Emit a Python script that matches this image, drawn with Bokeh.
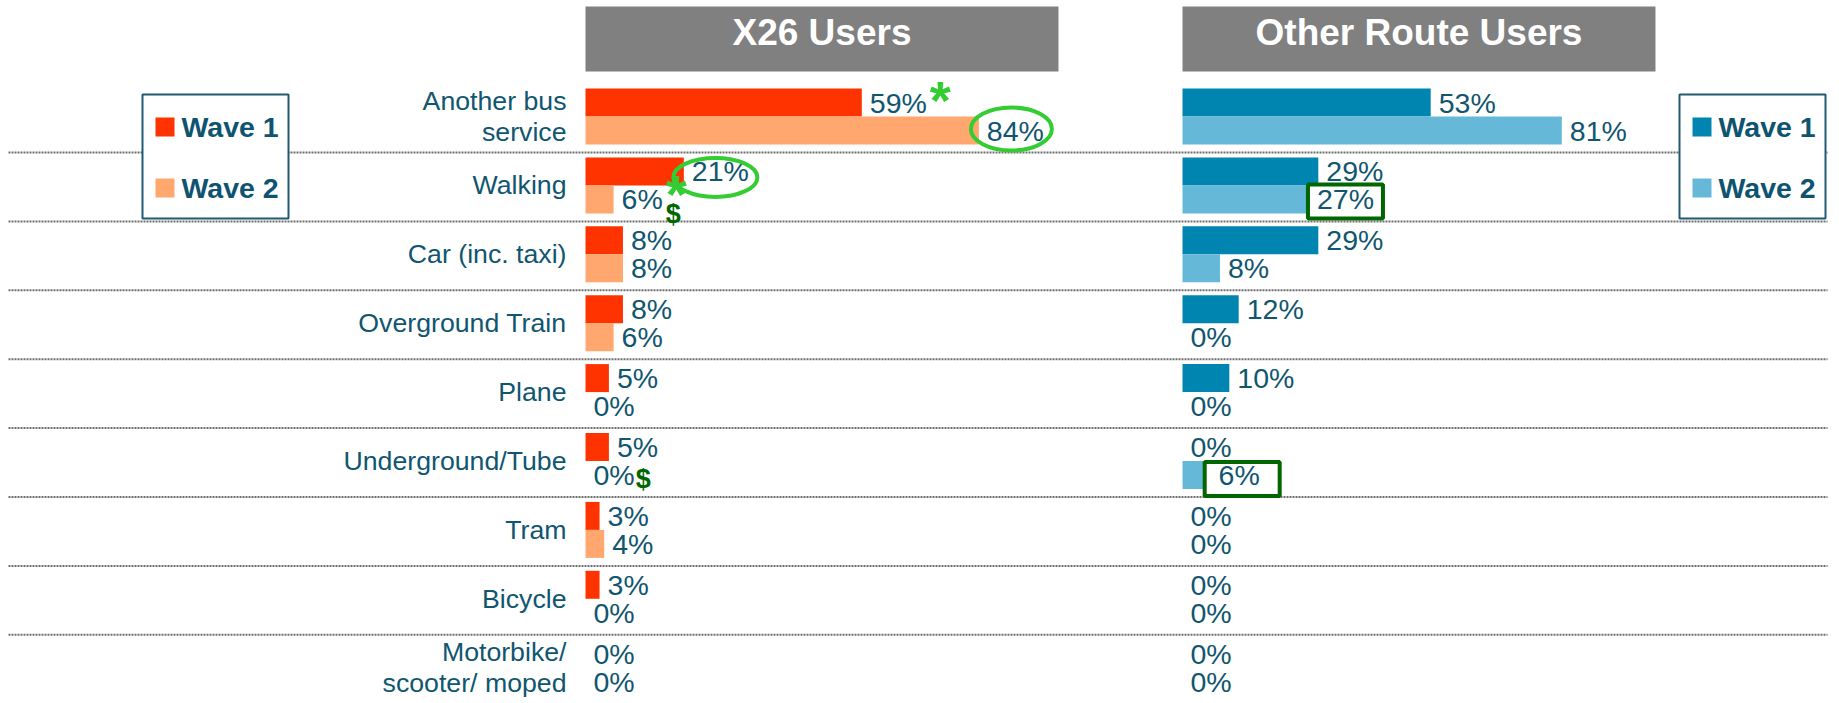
from bokeh.plotting import figure
from bokeh.models import ColumnDataSource, Range1d
from bokeh.transform import dodge
from bokeh.core.properties import value
from bokeh.embed import file_html
from bokeh.resources import INLINE

# ---------------- data ----------------
categories = ["Another bus\nservice", "Walking", "Car (inc. taxi)", "Overground Train",
              "Plane", "Underground/Tube", "Tram", "Bicycle", "Motorbike/\nscooter/ moped"]
x26_wave1 = [59, 21, 8, 8, 5, 5, 3, 3, 0]
x26_wave2 = [84, 6, 8, 6, 0, 0, 4, 0, 0]
other_wave1 = [53, 29, 29, 12, 10, 0, 0, 0, 0]
other_wave2 = [81, 27, 8, 0, 0, 6, 0, 0, 0]
panel_titles = ["X26 Users", "Other Route Users"]
wave_labels = ["Wave 1", "Wave 2"]

# highlighted values: (panel, category index, wave, kind)
highlights = [("x26", 0, 2, "ellipse"), ("x26", 1, 1, "ellipse"),
              ("other", 1, 2, "box"), ("other", 5, 2, "box")]
# significance marks: (panel, category index, wave, symbol)
sig_marks = [("x26", 0, 1, "*"), ("x26", 1, 2, "*"), ("x26", 1, 2, "$"), ("x26", 5, 2, "$")]

# ---------------- layout / style ----------------
W, H = 1839, 703
PAGE = 0
SCALE = 4.683          # px per percent
ORIGIN = {"x26": 585, "other": 1182}
ROW0, PITCH = 116.0, 68.9
BAR_H = 28.0
OFF = 14.0 / PITCH
TXT = "#10566F"
FONT = value("Liberation Sans")
colors = {"x26": ("#FF3300", "#FFA76E"), "other": ("#0085B0", "#66B8D8")}
data = {"x26": (x26_wave1, x26_wave2), "other": (other_wave1, other_wave2)}

p = figure(width=W, height=H, x_range=Range1d(PAGE, PAGE + W), y_range=Range1d(PAGE + H, PAGE),
           output_backend="svg", toolbar_location=None, min_border=0,
           x_axis_location=None, y_axis_location=None, outline_line_color=None,
           background_fill_color="white", border_fill_color="white")
p.grid.visible = False
p.extra_x_ranges = {k: Range1d((PAGE - o) / SCALE, (PAGE + W - o) / SCALE) for k, o in ORIGIN.items()}
p.extra_y_ranges = {"rows": Range1d((PAGE + H - ROW0) / PITCH, (PAGE - ROW0) / PITCH)}

n = len(categories)
idx = list(range(n))

# dotted separators
sep = ColumnDataSource(dict(y=[i + 36.0 / PITCH for i in range(n - 1)]))
p.segment(x0=8, x1=1827, y0="y", y1="y", source=sep, y_range_name="rows",
          line_color="#6E6E6E", line_width=2, line_dash="2 1", level="underlay")

# panel headers
for panel, title in zip(["x26", "other"], panel_titles):
    p.quad(left=0, right=101, top=6, bottom=71, x_range_name=panel,
           fill_color="#808080", line_color=None)
    p.text(x=[50.5], y=[32], text=[title], x_range_name=panel, text_align="center",
           text_baseline="middle", text_color="white", text_font=FONT,
           text_font_size="37px", text_font_style="bold")

# bars
for panel in ["x26", "other"]:
    w1, w2 = data[panel]
    c1, c2 = colors[panel]
    src = ColumnDataSource(dict(idx=idx, w1=w1, w2=w2,
                                l1=[f"{v}%" for v in w1], l2=[f"{v}%" for v in w2]))
    p.hbar(y=dodge("idx", -OFF), left=0, right="w1", height=BAR_H / PITCH, source=src,
           x_range_name=panel, y_range_name="rows", fill_color=c1, line_color=None)
    p.hbar(y=dodge("idx", OFF), left=0, right="w2", height=BAR_H / PITCH, source=src,
           x_range_name=panel, y_range_name="rows", fill_color=c2, line_color=None)
    data[panel + "_src"] = src

# legends
for bl, panel in [(142, "x26"), (1679, "other")]:
    p.quad(left=bl, right=bl + 146, top=94, bottom=218, fill_color="white",
           line_color="#1E5B73", line_width=2)
    for k, (yc, lab) in enumerate(zip([126.5, 187.5], wave_labels)):
        p.quad(left=bl + 13, right=bl + 32, top=yc - 9.5, bottom=yc + 9.5,
               fill_color=colors[panel][k], line_color=None)
        p.text(x=[bl + 39], y=[yc], text=[lab], text_align="left", text_baseline="middle",
               text_color="#0E5470", text_font=FONT, text_font_size="28.5px",
               text_font_style="bold")


def label_geom(panel, i, wave):
    v = data[panel][wave - 1][i]
    s = f"{v}%"
    w = 28.5 * sum(0.889 if ch == "%" else 0.556 for ch in s)
    x0 = ORIGIN[panel] + v * SCALE + 8
    cy = ROW0 + i * PITCH + (-14 if wave == 1 else 14)
    return x0, w, cy


# highlight boxes (behind labels)
hl_adj = {0: (-4, -1.5, 81, 43), 1: (-5, 6, 84, 39), 2: (0, 2, 75, 34), 3: (3, 4, 75, 34)}
for k, (panel, i, wave, kind) in enumerate(highlights):
    x0, w, cy = label_geom(panel, i, wave)
    dx, dy, ww, hh = hl_adj[k]
    if kind == "box":
        p.rect(x=[x0 + w / 2 + dx], y=[cy + dy], width=ww, height=hh, fill_color="white",
               line_color="#006600", line_width=4)

# value labels and category labels
for panel in ["x26", "other"]:
    src = data[panel + "_src"]
    for fld, off in [("l1", -OFF), ("l2", OFF)]:
        wcol = "w1" if fld == "l1" else "w2"
        p.text(x=wcol, y=dodge("idx", off), text=fld, source=src, x_offset=8,
               x_range_name=panel, y_range_name="rows", text_align="left",
               text_baseline="middle", text_color=TXT, text_font=FONT,
               text_font_size="28.5px")

cat_src = ColumnDataSource(dict(idx=idx, cat=categories))
p.text(x=0, y="idx", text="cat", source=cat_src, x_offset=-19, x_range_name="x26",
       y_range_name="rows", text_align="right", text_baseline="middle", text_color=TXT,
       text_font=FONT, text_font_size="26.7px", text_line_height=1.02)

# ellipses
for k, (panel, i, wave, kind) in enumerate(highlights):
    x0, w, cy = label_geom(panel, i, wave)
    dx, dy, ww, hh = hl_adj[k]
    if kind == "ellipse":
        p.ellipse(x=[x0 + w / 2 + dx], y=[cy + dy], width=ww, height=hh, fill_color=None,
                  line_color="#33CC33", line_width=4)

# significance marks
mark_adj = {0: (3, -10), 1: (3, -12), 2: (3, 13), 3: (1, 2.5)}
for k, (panel, i, wave, sym) in enumerate(sig_marks):
    x0, w, cy = label_geom(panel, i, wave)
    dx, dy = mark_adj[k]
    if sym == "*":
        p.text(x=[x0 + w + dx], y=[cy + dy + 7], text=[sym], text_align="left",
               text_baseline="alphabetic", text_color="#33CC33", text_font=FONT,
               text_font_size="54px", text_font_style="bold")
    else:
        p.text(x=[x0 + w + dx], y=[cy + dy + 1.5], text=[sym], text_align="left",
               text_baseline="alphabetic", text_color="#006600", text_font=FONT,
               text_font_size="27px", text_font_style="bold")

open("out.html", "w").write(file_html(p, INLINE))
